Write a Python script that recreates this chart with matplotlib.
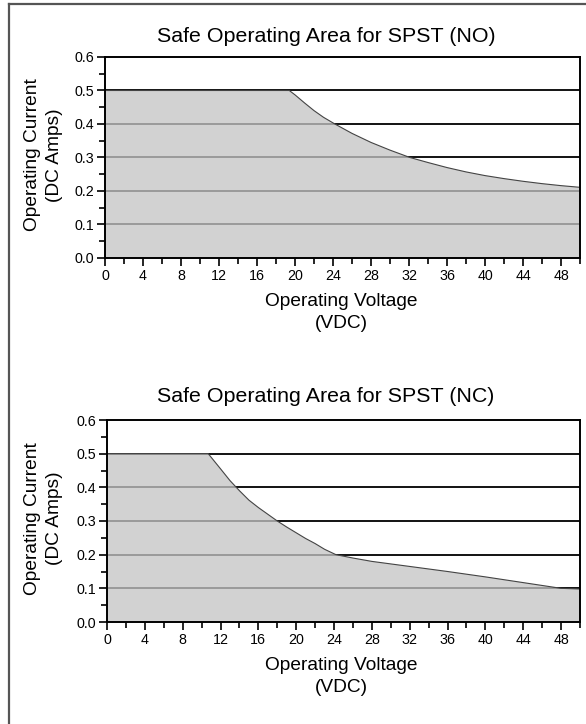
import matplotlib
matplotlib.use("Agg")
import matplotlib.pyplot as plt
from matplotlib.ticker import MultipleLocator, FormatStrFormatter
from matplotlib.lines import Line2D

plt.rcParams['font.family'] = ['Liberation Sans', 'DejaVu Sans']

# Data
no_voltage = [0, 19.4, 20, 21, 22, 23, 24.2, 26, 28, 30, 32.1, 34, 36, 38, 40, 42, 44, 46, 48, 50]
no_current = [0.5, 0.5, 0.487, 0.463, 0.44, 0.42, 0.40, 0.372, 0.345, 0.322, 0.30,
              0.285, 0.27, 0.257, 0.246, 0.237, 0.229, 0.222, 0.216, 0.211]
nc_voltage = [0, 10.7, 12, 13, 14, 15, 16, 17, 18, 19, 20, 21, 22, 23, 24.2, 26, 28,
              32, 36, 40, 44, 48, 50]
nc_current = [0.5, 0.5, 0.455, 0.42, 0.39, 0.362, 0.34, 0.32, 0.30, 0.282, 0.265, 0.248,
              0.233, 0.216, 0.20, 0.19, 0.18, 0.165, 0.15, 0.134, 0.117, 0.10, 0.098]
titles = ["Safe Operating Area for SPST (NO)", "Safe Operating Area for SPST (NC)"]
x_ticks = list(range(0, 50, 4))
y_ticks = [0.0, 0.1, 0.2, 0.3, 0.4, 0.5, 0.6]
grid_levels = [0.1, 0.2, 0.3, 0.4, 0.5]

W, H = 586, 724
fig = plt.figure(figsize=(W / 100, H / 100), dpi=100)

def px_axes(left, right, top, bottom):
    return fig.add_axes([left / W, 1 - bottom / H, (right - left) / W, (bottom - top) / H])

axes_specs = [
    (105, 580, 57, 258),
    (107, 580, 420, 622),
]
title_y = [36, 397]
series = [(no_voltage, no_current), (nc_voltage, nc_current)]

for i, (spec, (xv, yv)) in enumerate(zip(axes_specs, series)):
    ax = px_axes(*spec)
    ax.set_xlim(0, 50)
    ax.set_ylim(0, 0.6)
    for g in grid_levels:
        ax.axhline(g, color='black', lw=1.3, zorder=1)
    ax.fill_between(xv, yv, 0, facecolor=(0.773, 0.773, 0.773), alpha=0.763,
                    edgecolor='none', zorder=2)
    ax.plot(xv, yv, color='#444444', lw=0.8, zorder=3)
    for s in ax.spines.values():
        s.set_linewidth(1.4)
        s.set_color('black')
        s.set_zorder(4)
    ax.xaxis.set_minor_locator(MultipleLocator(2))
    ax.yaxis.set_minor_locator(MultipleLocator(0.05))
    ax.set_xticks(x_ticks)
    ax.set_yticks(y_ticks)
    ax.yaxis.set_major_formatter(FormatStrFormatter('%.1f'))
    ax.tick_params(which='major', direction='out', length=6, width=1.2, colors='black',
                   labelsize=10.3, pad=2)
    ax.tick_params(which='minor', direction='out', length=4, width=1.2, colors='black')
    fig.text(326 / W, 1 - title_y[i] / H, titles[i], ha='center', va='center', fontsize=15.4)
    cy = (spec[2] + spec[3]) / 2 - 2.5
    fig.text(43.5 / W, 1 - cy / H, "Operating Current\n(DC Amps)", rotation=90,
             ha='center', va='center', fontsize=13.75, linespacing=1.37)
    fig.text(341.5 / W, 1 - (spec[3] + 54.5) / H, "Operating Voltage\n(VDC)",
             ha='center', va='center', fontsize=13.75, linespacing=1.37)

# frame lines (top and left)
fig.add_artist(Line2D([9 / W, 1], [1 - 4 / H, 1 - 4 / H], color='#555555', lw=1.6,
                      transform=fig.transFigure))
fig.add_artist(Line2D([9 / W, 9 / W], [1 - 4 / H, 0], color='#555555', lw=1.6,
                      transform=fig.transFigure))

fig.savefig("out.png", dpi=100)
